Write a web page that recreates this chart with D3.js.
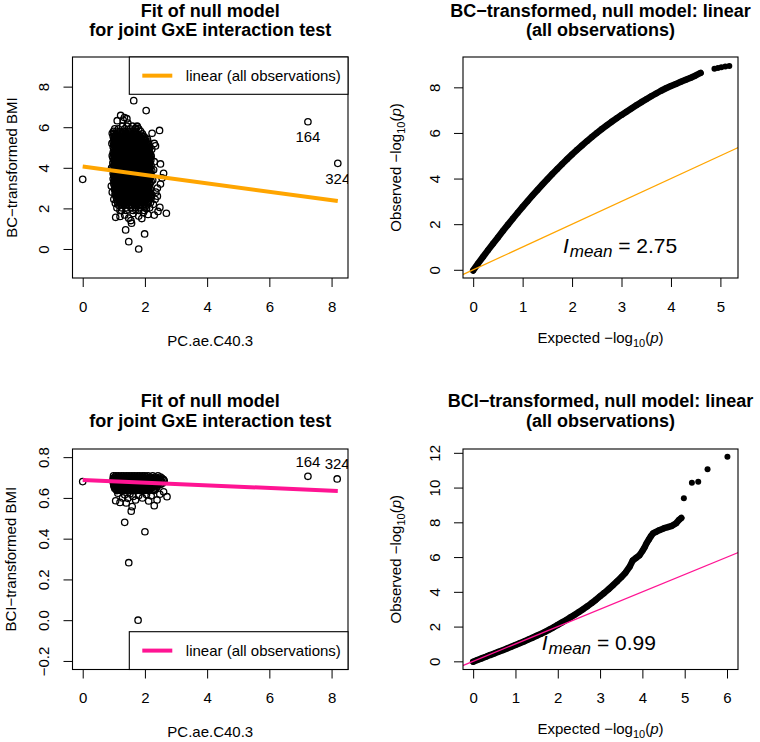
<!DOCTYPE html>
<html><head><meta charset="utf-8">
<script src="https://cdn.jsdelivr.net/npm/d3@7"></script>
<style>body{margin:0;background:#fff}svg text{font-family:"Liberation Sans",Arial,Helvetica,sans-serif}</style>
</head><body><svg id="c" width="760" height="742"></svg>
<script>
// ---------------- DATA ----------------
// Top-left: BC-transformed BMI vs PC.ae.C40.3 (dense core read row by row)
const tlRowsY = [6.05,5.92,5.8,5.67,5.54,5.41,5.28,5.15,5.02,4.89,4.76,4.63,4.5,4.37,4.24,4.11,3.98,3.85,3.72,3.59,3.46,3.33,3.2,3.07,2.94,2.81,2.68,2.55,2.42,2.29,2.16,2.03,1.9];
const tlRowsX = [
 [1.28,1.42,1.6,1.75],
 [1.03,1.15,1.35,1.52,1.68,1.8],
 [0.99,1.09,1.22,1.31,1.45,1.58,1.7,1.86],
 [1.01,1.1,1.19,1.28,1.37,1.47,1.56,1.65,1.76,1.92],
 [0.98,1.06,1.14,1.23,1.32,1.4,1.49,1.58,1.66,1.75,1.84,1.97],
 [1.0,1.09,1.17,1.26,1.35,1.43,1.52,1.6,1.69,1.78,1.87,1.96,2.08],
 [0.98,1.05,1.13,1.22,1.3,1.39,1.47,1.56,1.64,1.73,1.82,1.9,1.99,2.1],
 [1.0,1.09,1.17,1.26,1.34,1.43,1.51,1.6,1.69,1.77,1.86,1.94,2.03,2.13],
 [0.98,1.05,1.13,1.21,1.3,1.38,1.47,1.55,1.64,1.72,1.81,1.9,1.98,2.07,2.16],
 [1.0,1.08,1.17,1.25,1.34,1.42,1.51,1.59,1.68,1.77,1.85,1.94,2.02,2.11],
 [0.98,1.04,1.13,1.21,1.3,1.38,1.47,1.55,1.64,1.72,1.81,1.89,1.98,2.06,2.15],
 [1.0,1.08,1.17,1.25,1.34,1.42,1.51,1.6,1.68,1.77,1.85,1.94,2.02,2.11,2.19],
 [0.97,1.04,1.12,1.21,1.29,1.38,1.46,1.55,1.64,1.72,1.81,1.89,1.98,2.06,2.15],
 [1.0,1.08,1.17,1.25,1.34,1.42,1.51,1.59,1.68,1.76,1.85,1.93,2.02,2.1,2.19],
 [0.97,1.04,1.12,1.21,1.29,1.38,1.46,1.55,1.63,1.72,1.8,1.89,1.97,2.06,2.15],
 [1.0,1.08,1.17,1.25,1.34,1.42,1.51,1.59,1.68,1.76,1.85,1.93,2.02,2.1,2.2],
 [0.97,1.04,1.12,1.21,1.29,1.38,1.46,1.55,1.63,1.72,1.8,1.89,1.97,2.06,2.16],
 [1.0,1.08,1.17,1.25,1.34,1.42,1.51,1.59,1.68,1.76,1.85,1.93,2.02,2.11,2.22],
 [0.98,1.04,1.12,1.21,1.29,1.38,1.46,1.55,1.63,1.72,1.8,1.89,1.97,2.06,2.16],
 [1.0,1.08,1.17,1.25,1.34,1.42,1.51,1.59,1.68,1.76,1.85,1.93,2.02,2.1,2.2],
 [0.98,1.05,1.13,1.21,1.3,1.38,1.47,1.55,1.64,1.72,1.81,1.89,1.98,2.06,2.15],
 [1.01,1.09,1.17,1.26,1.34,1.43,1.51,1.6,1.68,1.77,1.85,1.94,2.02,2.11,2.2],
 [1.0,1.06,1.13,1.22,1.3,1.39,1.47,1.56,1.64,1.73,1.81,1.9,1.98,2.07,2.16],
 [1.03,1.1,1.18,1.26,1.35,1.43,1.52,1.6,1.69,1.77,1.86,1.94,2.03,2.12],
 [1.02,1.07,1.14,1.22,1.31,1.39,1.48,1.56,1.65,1.73,1.82,1.9,1.99,2.08,2.18],
 [1.05,1.12,1.2,1.28,1.37,1.45,1.54,1.62,1.71,1.79,1.88,1.96,2.05,2.14],
 [1.04,1.1,1.17,1.25,1.34,1.42,1.51,1.59,1.68,1.76,1.85,1.93,2.02,2.12,2.22],
 [1.08,1.15,1.23,1.31,1.4,1.48,1.57,1.65,1.74,1.82,1.91,1.99,2.08,2.18],
 [1.1,1.18,1.27,1.35,1.44,1.52,1.61,1.69,1.78,1.86,1.95,2.04,2.14],
 [1.12,1.22,1.31,1.4,1.5,1.59,1.68,1.77,1.87,1.96,2.06,2.18],
 [1.16,1.27,1.38,1.49,1.6,1.71,1.82,1.93,2.04],
 [1.1,1.25,1.4,1.55,1.7,1.85,2.0,2.15],
 [1.2,1.4,1.62,1.8,1.98]
];
const tlMidRowsY = [5.605,5.475,5.345,5.215,5.085,4.955,4.825,4.695,4.565,4.435,4.305,4.175,4.045,3.915,3.785,3.655,3.525,3.395,3.265,3.135,3.005,2.875,2.745,2.615,2.485,2.355,2.225];
const tlMidRowsX = [
 [1.04,1.14,1.23,1.33,1.42,1.51,1.61,1.7,1.8,1.9],
 [1.02,1.1,1.19,1.27,1.36,1.45,1.53,1.62,1.71,1.79,1.88,2.0],
 [1.03,1.13,1.21,1.3,1.39,1.47,1.56,1.65,1.73,1.82,1.91,2.02],
 [1.02,1.09,1.17,1.26,1.34,1.43,1.51,1.6,1.68,1.77,1.86,1.94,2.06],
 [1.03,1.12,1.21,1.29,1.38,1.46,1.55,1.63,1.72,1.81,1.89,1.98,2.09],
 [1.01,1.09,1.17,1.25,1.34,1.42,1.51,1.59,1.68,1.76,1.85,1.94,2.02,2.12],
 [1.03,1.12,1.21,1.29,1.38,1.46,1.55,1.63,1.72,1.81,1.89,1.98,2.07],
 [1.01,1.09,1.17,1.25,1.34,1.42,1.51,1.59,1.68,1.76,1.85,1.94,2.02,2.12],
 [1.03,1.12,1.21,1.29,1.38,1.46,1.55,1.63,1.72,1.81,1.89,1.98,2.07,2.16],
 [1.01,1.09,1.17,1.25,1.34,1.42,1.51,1.59,1.68,1.76,1.85,1.94,2.02,2.12],
 [1.03,1.12,1.21,1.29,1.38,1.46,1.55,1.63,1.72,1.81,1.89,1.98,2.07,2.16],
 [1.01,1.09,1.17,1.25,1.34,1.42,1.51,1.59,1.68,1.76,1.85,1.94,2.02,2.12],
 [1.03,1.12,1.21,1.29,1.38,1.46,1.55,1.63,1.72,1.81,1.89,1.98,2.07,2.16],
 [1.01,1.09,1.17,1.25,1.34,1.42,1.51,1.59,1.68,1.76,1.85,1.94,2.02,2.12],
 [1.03,1.12,1.21,1.29,1.38,1.46,1.55,1.63,1.72,1.81,1.89,1.98,2.07,2.17],
 [1.01,1.09,1.17,1.25,1.34,1.42,1.51,1.59,1.68,1.76,1.85,1.94,2.02,2.12],
 [1.03,1.12,1.21,1.29,1.38,1.46,1.55,1.63,1.72,1.81,1.89,1.98,2.07,2.16],
 [1.02,1.09,1.17,1.25,1.34,1.42,1.51,1.59,1.68,1.76,1.85,1.94,2.02,2.12],
 [1.04,1.12,1.21,1.29,1.38,1.46,1.55,1.63,1.72,1.81,1.89,1.98,2.07,2.16],
 [1.06,1.14,1.22,1.3,1.39,1.47,1.56,1.64,1.73,1.81,1.9,1.99,2.08],
 [1.05,1.11,1.18,1.27,1.35,1.44,1.52,1.61,1.69,1.78,1.86,1.95,2.04,2.13],
 [1.08,1.16,1.24,1.33,1.41,1.5,1.58,1.67,1.75,1.84,1.92,2.01,2.1],
 [1.07,1.14,1.21,1.3,1.38,1.47,1.55,1.64,1.72,1.81,1.89,1.98,2.07,2.17],
 [1.11,1.19,1.27,1.36,1.44,1.53,1.61,1.7,1.78,1.87,1.95,2.04,2.13],
 [1.14,1.22,1.31,1.39,1.48,1.56,1.65,1.73,1.82,1.9,1.99,2.09],
 [1.17,1.26,1.35,1.45,1.54,1.63,1.72,1.82,1.91,2.01,2.12],
 [1.21,1.32,1.43,1.54,1.65,1.76,1.87,1.98,2.1]
];
const tlFringe = [[0.0,3.43],[1.64,7.31],[2.04,6.82],[1.22,6.58],[1.34,6.48],[1.42,6.42],[1.3,6.35],[1.11,6.32],[1.45,6.2],[1.75,6.02],[1.7,5.95],[0.95,5.7],[2.47,5.84],[2.23,5.7],[2.3,5.2],[2.34,5.08],[2.22,4.92],[2.2,4.55],[2.5,4.19],[2.6,3.73],[2.55,3.5],[2.5,3.2],[2.4,3.0],[2.35,2.8],[2.4,2.6],[2.33,2.45],[2.27,2.2],[2.48,2.05],[2.3,1.67],[2.42,1.85],[2.69,1.76],[1.06,1.56],[1.2,1.6],[1.35,1.68],[1.48,1.52],[1.62,1.75],[1.8,1.62],[1.95,1.8],[2.1,1.7],[1.57,1.27],[1.38,0.94],[1.48,0.36],[1.8,0.0],[1.99,0.74],[1.7,1.94],[0.92,3.1],[0.95,2.8],[0.93,4.0],[0.95,4.6],[0.94,5.2],[1.0,2.45],[1.05,2.25],[2.28,3.9],[2.3,4.3],[2.25,3.4],[2.2,2.5],[1.55,1.4],[1.25,1.9],[1.9,1.5],[2.05,2.0]];
const outlierIds = ["164","324"];
const tlOutliers = [[7.24,6.27],[8.2,4.22]];
const fitX = [0, 8.2];
const tlFitY = [4.06, 2.36];

// Bottom-left: BCI-transformed BMI vs PC.ae.C40.3
const blRowsY = [0.708,0.696,0.684,0.672,0.660,0.648,0.636];
const blRowsX = [
 [0.99,1.07,1.15,1.24,1.32,1.41,1.49,1.58,1.66,1.75,1.83,1.92,2.0,2.1,2.25,2.42],
 [0.98,1.04,1.12,1.2,1.29,1.37,1.46,1.54,1.63,1.71,1.8,1.88,1.97,2.05,2.14,2.23,2.33,2.45,2.55],
 [0.97,1.07,1.15,1.24,1.32,1.41,1.49,1.58,1.66,1.75,1.83,1.92,2.0,2.09,2.18,2.27,2.38,2.5,2.62],
 [0.99,1.04,1.12,1.2,1.29,1.37,1.46,1.54,1.63,1.71,1.8,1.88,1.97,2.05,2.14,2.23,2.33,2.44,2.56],
 [1.0,1.08,1.16,1.25,1.33,1.42,1.5,1.59,1.67,1.76,1.84,1.93,2.01,2.1,2.2,2.3,2.4],
 [1.03,1.12,1.2,1.29,1.38,1.47,1.56,1.65,1.74,1.83,1.92,2.01,2.1,2.2,2.35],
 [1.1,1.22,1.35,1.48,1.6,1.72,1.85,1.98,2.12,2.28]
];
const blMidRowsY = [0.702,0.690,0.678,0.666,0.654,0.642];
const blMidRowsX = [
 [1.03,1.11,1.2,1.28,1.37,1.45,1.54,1.62,1.71,1.79,1.88,1.96,2.05,2.17,2.33,2.5],
 [1.01,1.08,1.16,1.25,1.33,1.42,1.5,1.59,1.67,1.76,1.84,1.93,2.01,2.1,2.19,2.28,2.39,2.5,2.6],
 [1.02,1.11,1.19,1.28,1.36,1.45,1.53,1.62,1.7,1.79,1.87,1.96,2.04,2.13,2.22,2.31,2.42,2.55],
 [1.02,1.08,1.16,1.25,1.33,1.42,1.5,1.59,1.67,1.76,1.84,1.93,2.01,2.1,2.18,2.28,2.38,2.5],
 [1.04,1.12,1.21,1.29,1.38,1.46,1.55,1.63,1.72,1.8,1.89,1.97,2.06,2.15,2.25,2.38],
 [1.07,1.16,1.25,1.34,1.43,1.52,1.61,1.7,1.79,1.88,1.97,2.06,2.16,2.3]
];
const blFringe = [[0.0,0.68],[1.13,0.623],[1.06,0.586],[1.2,0.578],[1.28,0.6],[1.35,0.615],[1.45,0.598],[1.52,0.62],[1.62,0.607],[1.7,0.59],[1.8,0.612],[1.92,0.6],[2.05,0.617],[2.2,0.61],[1.59,0.557],[1.56,0.535],[2.3,0.562],[2.39,0.59],[2.48,0.618],[2.71,0.606],[2.6,0.63],[1.35,0.48],[2.0,0.434],[1.48,0.282],[1.78,0.0],[1.4,0.575],[2.12,0.585]];
const blOutliers = [[7.24,0.706],[8.18,0.693]];
const blFitY = [0.688, 0.634];

// Top-right QQ (expected, observed)
const trQQ = [[0,-0.03],[0.1,0.28],[0.2,0.57],[0.3,0.86],[0.4,1.14],[0.5,1.42],[0.6,1.7],[0.7,1.97],[0.8,2.24],[0.9,2.5],[1.0,2.76],[1.1,3.01],[1.2,3.26],[1.3,3.5],[1.4,3.74],[1.5,3.97],[1.6,4.2],[1.7,4.42],[1.8,4.64],[1.9,4.85],[2.0,5.06],[2.1,5.26],[2.2,5.45],[2.3,5.64],[2.4,5.82],[2.5,6.0],[2.6,6.17],[2.7,6.33],[2.8,6.49],[2.9,6.64],[3.0,6.79],[3.1,6.93],[3.2,7.07],[3.3,7.21],[3.4,7.35],[3.5,7.48],[3.6,7.61],[3.7,7.73],[3.8,7.85],[3.9,7.96],[4.0,8.06],[4.1,8.15],[4.2,8.24],[4.3,8.33],[4.4,8.42],[4.5,8.52],[4.6,8.63]];
const trTail = [[4.88,8.82],[4.95,8.85],[5.02,8.88],[5.1,8.91],[5.18,8.94]];
// Bottom-right QQ
const brQQ = [[0,-0.02],[0.1,0.08],[0.2,0.17],[0.3,0.26],[0.4,0.36],[0.5,0.45],[0.6,0.55],[0.7,0.64],[0.8,0.74],[0.9,0.84],[1.0,0.94],[1.1,1.04],[1.2,1.14],[1.3,1.25],[1.4,1.36],[1.5,1.47],[1.6,1.58],[1.7,1.7],[1.8,1.83],[1.9,1.96],[2.0,2.1],[2.1,2.24],[2.2,2.38],[2.3,2.53],[2.4,2.68],[2.5,2.84],[2.6,3.0],[2.7,3.17],[2.8,3.35],[2.9,3.54],[3.0,3.74],[3.1,3.94],[3.2,4.15],[3.3,4.37],[3.4,4.6],[3.5,4.84],[3.6,5.1],[3.7,5.45],[3.77,5.8],[3.85,5.95],[3.93,6.1],[4.0,6.35],[4.05,6.55],[4.1,6.8],[4.15,7.0],[4.2,7.2],[4.25,7.36],[4.32,7.45],[4.4,7.55],[4.5,7.65],[4.6,7.72],[4.7,7.8],[4.8,7.95],[4.87,8.15],[4.92,8.25]];
const brTail = [[4.98,9.38],[5.17,10.28],[5.32,10.33],[5.54,11.05],[6.01,11.78]];
const refLine = [-1, 13];
const lambdaValues = ["2.75", "0.99"];

const tlXTicks = [0,2,4,6,8], tlYTicks = [0,2,4,6,8];
const trXTicks = [0,1,2,3,4,5], trYTicks = [0,2,4,6,8];
const blXTicks = [0,2,4,6,8], blYTicks = [-0.2,0,0.2,0.4,0.6,0.8];
const brXTicks = [0,1,2,3,4,5,6], brYTicks = [0,2,4,6,8,10,12];

const ORANGE = "#FFA500", PINK = "#FF1493";
const FONT = "Liberation Sans, Arial, Helvetica, sans-serif";

// ---------------- DRAW ----------------
const svg = d3.select("#c");
const rows = (ys, xs) => ys.flatMap((y,i) => xs[i].map(x => [x,y]));
const intFmt = d => String(d);
const decFmt = d => (d < 0 ? "\u2212" : "") + Math.abs(d).toFixed(1);

function panel(p) {
  const x = d3.scaleLinear().domain(p.xdom).range([p.x0, p.x1]);
  const y = d3.scaleLinear().domain(p.ydom).range([p.y1, p.y0]);
  const id = "clip" + p.name;
  svg.append("clipPath").attr("id", id).append("rect")
    .attr("x", p.x0).attr("y", p.y0).attr("width", p.x1 - p.x0).attr("height", p.y1 - p.y0);
  const g = svg.append("g");
  const inner = g.append("g").attr("clip-path", `url(#${id})`);
  p.draw(inner, x, y);
  g.append("rect").attr("x", p.x0).attr("y", p.y0).attr("width", p.x1 - p.x0).attr("height", p.y1 - p.y0)
    .attr("fill", "none").attr("stroke", "#000").attr("stroke-width", 1.1);
  g.append("g").attr("transform", `translate(0,${p.y1})`)
    .call(d3.axisBottom(x).tickValues(p.xticks).tickSize(9).tickPadding(14.3).tickFormat(intFmt))
    .call(s => s.select(".domain").remove())
    .attr("font-size", 15).attr("font-family", FONT);
  g.append("g").attr("transform", `translate(${p.x0},0)`)
    .call(d3.axisLeft(y).tickValues(p.yticks).tickSize(9).tickFormat(p.yfmt))
    .call(s => s.select(".domain").remove())
    .attr("font-size", 15).attr("font-family", FONT)
    .call(s => s.selectAll(".tick text").attr("x", 0).attr("dy", null)
      .attr("text-anchor", "middle").attr("transform", "translate(-23.3,0) rotate(-90)"));
  const cx = (p.x0 + p.x1) / 2;
  p.title.forEach((t, i) => g.append("text").attr("x", cx).attr("y", p.titleY[i])
    .attr("text-anchor", "middle").attr("font-weight", "bold").attr("font-size", 18).text(t));
  const xl = g.append("text").attr("x", cx).attr("y", p.xlabY).attr("text-anchor", "middle").attr("font-size", 15);
  p.xlab(xl);
  const cy = (p.y0 + p.y1) / 2;
  const yl = g.append("text").attr("transform", `translate(${p.ylabX},${cy}) rotate(-90)`)
    .attr("text-anchor", "middle").attr("font-size", 15);
  p.ylab(yl);
  return {x, y, g};
}

function scatter(inner, x, y, pts, outl, fitY, color, below) {
  inner.append("g").selectAll("circle").data(pts.concat(outl)).join("circle")
    .attr("cx", d => x(d[0])).attr("cy", d => y(d[1])).attr("r", 3.2)
    .attr("fill", "none").attr("stroke", "#000").attr("stroke-width", 1.3);
  inner.append("line").attr("x1", x(fitX[0])).attr("y1", y(fitY[0]))
    .attr("x2", x(fitX[1])).attr("y2", y(fitY[1]))
    .attr("stroke", color).attr("stroke-width", 4);
  inner.append("g").selectAll("text").data(outl).join("text")
    .attr("x", d => x(d[0])).attr("y", d => y(d[1]) + (below ? 20.5 : -9.5))
    .attr("text-anchor", "middle").attr("font-size", 15).text((d, i) => outlierIds[i]);
}

function legend(g, x0, x1, y0, y1, color) {
  g.append("rect").attr("x", x0).attr("y", y0).attr("width", x1 - x0).attr("height", y1 - y0)
    .attr("fill", "#fff").attr("stroke", "#000").attr("stroke-width", 1.1);
  const my = (y0 + y1) / 2;
  g.append("line").attr("x1", x0 + 13).attr("x2", x0 + 43).attr("y1", my).attr("y2", my)
    .attr("stroke", color).attr("stroke-width", 4);
  g.append("text").attr("x", x0 + 56.5).attr("y", my + 5.4).attr("font-size", 15).text("linear (all observations)");
}

function qq(inner, x, y, dense, tail, color) {
  inner.append("path").datum(dense)
    .attr("d", d3.line().x(d => x(d[0])).y(d => y(d[1])))
    .attr("fill", "none").attr("stroke", "#000").attr("stroke-width", 6.5)
    .attr("stroke-linecap", "round").attr("stroke-linejoin", "round");
  inner.append("g").selectAll("circle").data(dense.concat(tail)).join("circle")
    .attr("cx", d => x(d[0])).attr("cy", d => y(d[1])).attr("r", 3)
    .attr("fill", "#000");
  inner.append("line").attr("x1", x(refLine[0])).attr("y1", y(refLine[0]))
    .attr("x2", x(refLine[1])).attr("y2", y(refLine[1]))
    .attr("stroke", color).attr("stroke-width", 1.2);
}

function lambdaText(g, px, py, val) {
  const t = g.append("text").attr("x", px).attr("y", py).attr("font-size", 21);
  t.append("tspan").attr("font-style", "italic").text("I");
  t.append("tspan").attr("font-style", "italic").attr("font-size", 17).attr("dy", 4).attr("dx", 1).text("mean");
  t.append("tspan").attr("dy", -4).text(" = " + val);
}

function expLab(t, word) {
  t.append("tspan").text(word + "  \u2212log");
  t.append("tspan").attr("font-size", 11).attr("dy", 4).text("10");
  t.append("tspan").attr("dy", -4).text("(");
  t.append("tspan").attr("font-style", "italic").text("p");
  t.append("tspan").text(")");
}

const TL = panel({name: "tl", x0: 72.5, x1: 348, y0: 57, y1: 278,
  xdom: [-0.328, 8.528], ydom: [-1.43, 9.46], xticks: tlXTicks, yticks: tlYTicks, yfmt: intFmt,
  title: ["Fit of null model", "for joint GxE interaction test"], titleY: [16.5, 36],
  xlabY: 346, ylabX: 16.5,
  xlab: t => t.text("PC.ae.C40.3"), ylab: t => t.text("BC\u2212transformed BMI"),
  draw: (inner, x, y) => scatter(inner, x, y,
    rows(tlRowsY, tlRowsX).concat(rows(tlMidRowsY, tlMidRowsX), tlFringe), tlOutliers, tlFitY, ORANGE, true)
});
legend(TL.g, 129.3, 348, 57, 94.3, ORANGE);

const TR = panel({name: "tr", x0: 463, x1: 738, y0: 57, y1: 278,
  xdom: [-0.206, 5.356], ydom: [-0.36, 9.33], xticks: trXTicks, yticks: trYTicks, yfmt: intFmt,
  title: ["BC\u2212transformed, null model: linear", "(all observations)"], titleY: [16.5, 36],
  xlabY: 342.5, ylabX: 401,
  xlab: t => expLab(t, "Expected"), ylab: t => expLab(t, "Observed"),
  draw: (inner, x, y) => qq(inner, x, y, trQQ, trTail, ORANGE)
});
lambdaText(TR.g, 563, 253, lambdaValues[0]);

const BL = panel({name: "bl", x0: 72.5, x1: 348, y0: 449, y1: 669.5,
  xdom: [-0.328, 8.528], ydom: [-0.242, 0.84], xticks: blXTicks, yticks: blYTicks, yfmt: decFmt,
  title: ["Fit of null model", "for joint GxE interaction test"], titleY: [406.5, 426.5],
  xlabY: 737.4, ylabX: 16,
  xlab: t => t.text("PC.ae.C40.3"), ylab: t => t.text("BCI\u2212transformed BMI"),
  draw: (inner, x, y) => scatter(inner, x, y,
    rows(blRowsY, blRowsX).concat(rows(blMidRowsY, blMidRowsX), blFringe), blOutliers, blFitY, PINK, false)
});
legend(BL.g, 129.3, 348, 631.7, 669.5, PINK);

const BR = panel({name: "br", x0: 463, x1: 738, y0: 449, y1: 669.5,
  xdom: [-0.24, 6.26], ydom: [-0.47, 12.22], xticks: brXTicks, yticks: brYTicks, yfmt: intFmt,
  title: ["BCI\u2212transformed, null model: linear", "(all observations)"], titleY: [406.5, 426.5],
  xlabY: 734, ylabX: 401,
  xlab: t => expLab(t, "Expected"), ylab: t => expLab(t, "Observed"),
  draw: (inner, x, y) => qq(inner, x, y, brQQ, brTail, PINK)
});
lambdaText(BR.g, 541.7, 650, lambdaValues[1]);
</script></body></html>
